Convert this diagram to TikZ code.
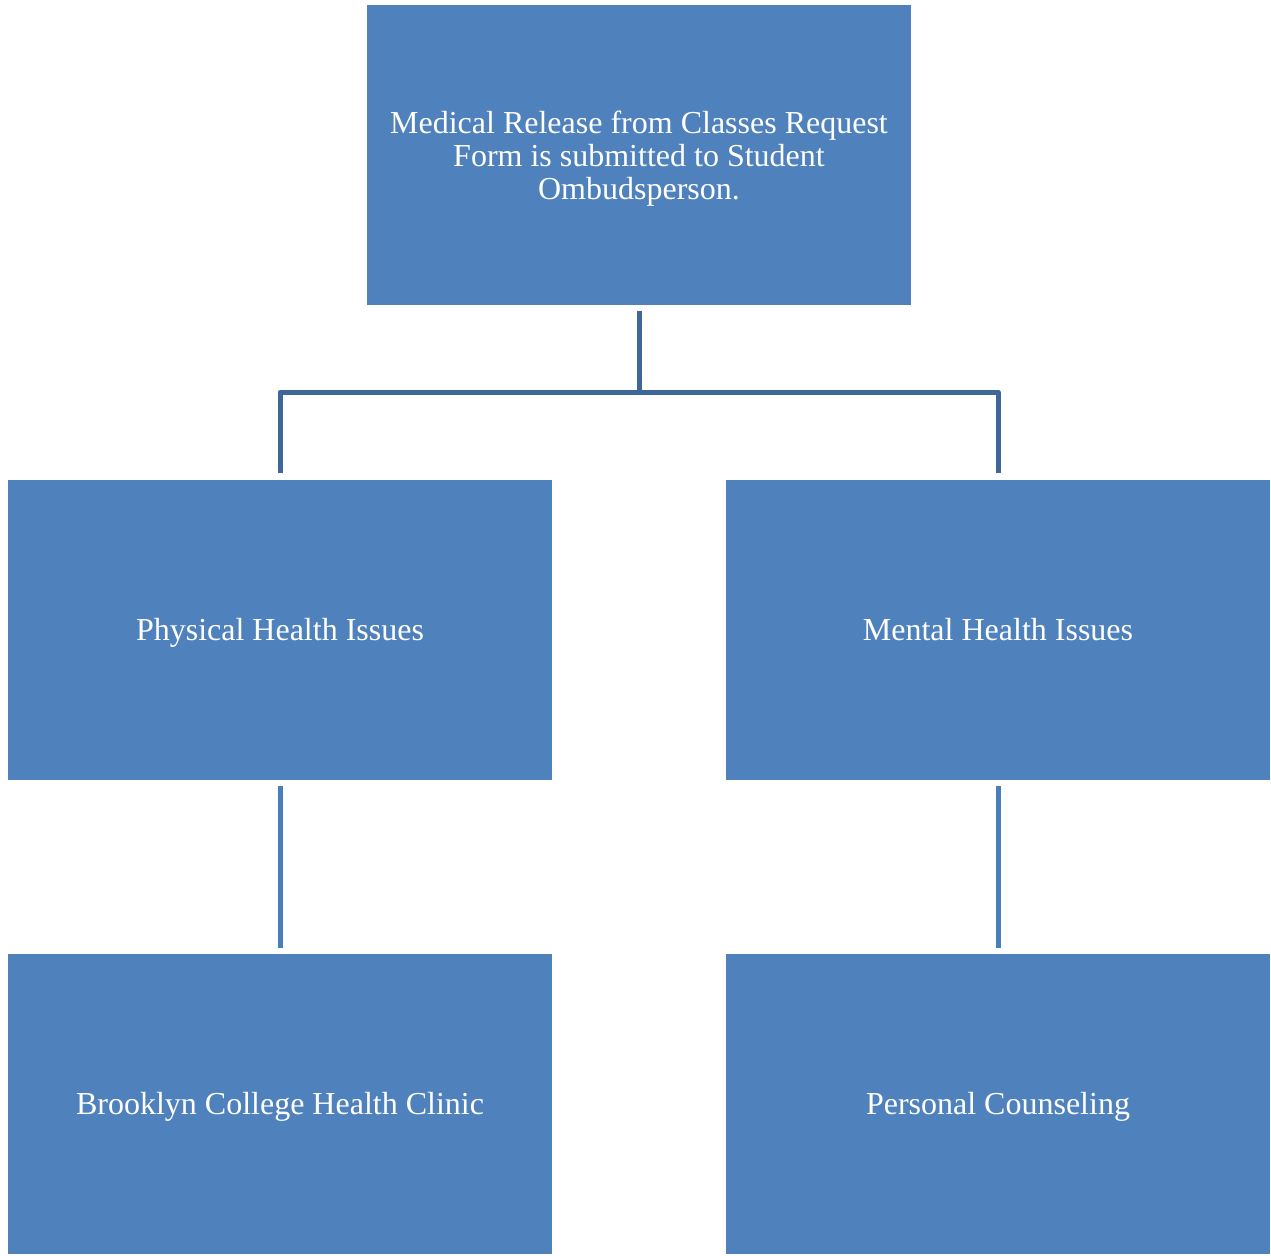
\documentclass[tikz,border=0pt]{standalone}
\usepackage{fontspec}
\setmainfont{Liberation Serif}
\definecolor{boxblue}{HTML}{4F81BD}
\definecolor{linedark}{HTML}{3F6699}
\definecolor{linelight}{HTML}{4A7EBB}
\begin{document}
\begin{tikzpicture}[x=1pt,y=-1pt,
  box/.style={fill=boxblue, draw=none, minimum width=544pt, minimum height=300pt,
    inner sep=0pt, text=white, align=center,
    font=\fontsize{32}{33}\selectfont},
  onebox/.style={box, text height=21pt, text depth=0pt},
  conndark/.style={draw=linedark, line width=5pt},
  connlight/.style={draw=linelight, line width=5pt, shorten <=6pt, shorten >=6pt}]
\useasboundingbox (0,0) rectangle (1271,1255);
\fill[white] (0,0) rectangle (1271,1255);
\node[box] (top) at (639,155) {\rule{0pt}{30pt}Medical Release from Classes Request\\Form is submitted to Student\\Ombudsperson.};
\node[onebox] (phys) at (280,630) {Physical Health Issues};
\node[onebox] (ment) at (998,630) {Mental Health Issues};
\node[onebox] (clinic) at (280,1104) {Brooklyn College Health Clinic};
\node[onebox] (couns) at (998,1104) {Personal Counseling};
\coordinate (j) at (639,392);
\draw[conndark, shorten <=6pt] (top.south) -- (j);
\draw[conndark, shorten >=7pt, line join=round] (j) -| (phys.north);
\draw[conndark, shorten >=7pt, line join=round] (j) -| (ment.north);
\draw[connlight] (phys.south) -- (clinic.north);
\draw[connlight] (ment.south) -- (couns.north);
\end{tikzpicture}
\end{document}
